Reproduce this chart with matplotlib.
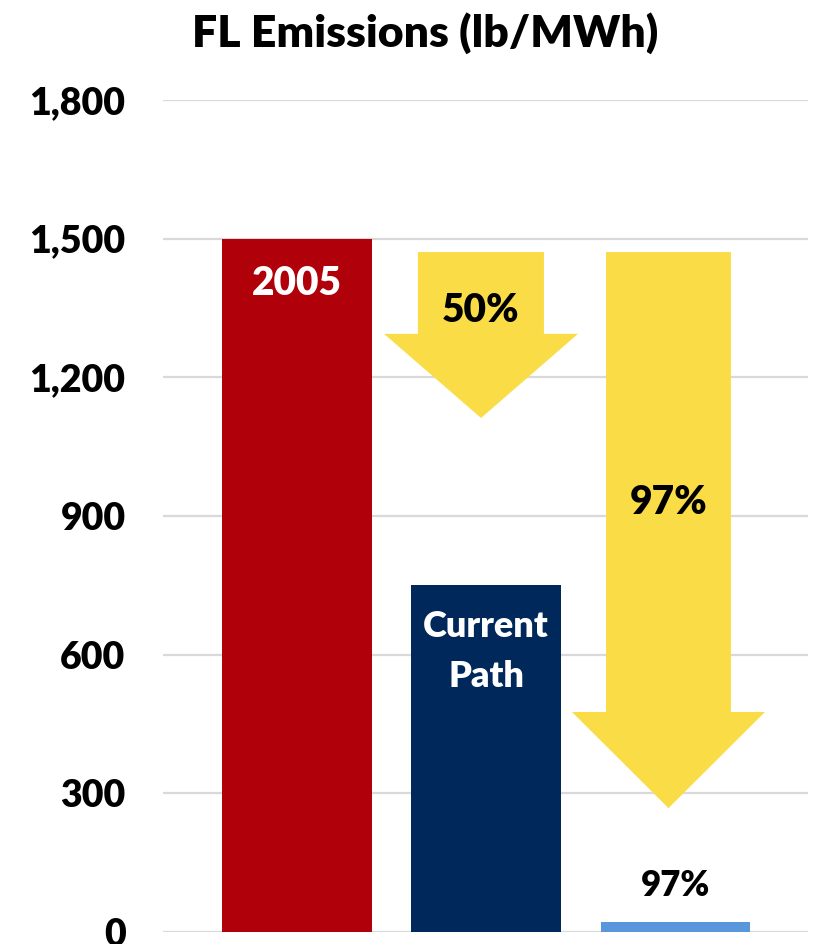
import matplotlib.pyplot as plt
from matplotlib.patches import Polygon

plt.rcParams['font.family'] = ['Lato', 'DejaVu Sans']
plt.rcParams['font.weight'] = 'heavy'

# data
categories = ['2005', 'Current Path', 'Target']
values = [1500, 750, 22]
colors = ['#B0000A', '#00285A', '#5A96DC']
yticks = [0, 300, 600, 900, 1200, 1500, 1800]
reductions = ['50%', '97%']

fig = plt.figure(figsize=(8.13, 9.44), dpi=100)
ax = fig.add_axes([0.2005, 0.0127, 0.7933, 0.8814])

x = list(range(len(categories)))
ax.bar(x, values, width=0.79, color=colors, zorder=2)

ax.set_xlim(-0.708, 2.70)
ax.set_ylim(0, 1800)
ax.set_yticks(yticks)
ax.set_yticklabels([f'{v:,}' for v in yticks], fontsize=27, fontweight='heavy')
ax.set_xticks([])
ax.tick_params(axis='y', length=0, pad=27)
ax.yaxis.grid(True, color='#D9D9D9', linewidth=1.6, zorder=0)
for s in ax.spines.values():
    s.set_visible(False)

fig.text(425 / 813, 1 - 33 / 944, 'FL Emissions (lb/MWh)', fontsize=32,
         fontweight='heavy', ha='center', va='center')


def down_arrow(x0, x1, hx0, hx1, top, neck, tip):
    # block arrow pointing down, in data coords
    xm = (hx0 + hx1) / 2
    pts = [(x0, top), (x1, top), (x1, neck), (hx1, neck), (xm, tip),
           (hx0, neck), (x0, neck)]
    ax.add_patch(Polygon(pts, closed=True, facecolor='#FADD46',
                         edgecolor='none', zorder=3))


down_arrow(0.639, 1.305, 0.46, 1.485, 1471, 1294, 1112)
down_arrow(1.633, 2.293, 1.453, 2.473, 1471, 476, 268)

# labels
ax.text(0, 1403, '2005', color='white', fontsize=28, fontweight='heavy',
        ha='center', va='center', zorder=4)
ax.text(1, 607, 'Current\nPath', color='white', fontsize=26,
        fontweight='heavy', ha='center', va='center', linespacing=1.6,
        zorder=4)
ax.text(0.972, 1345, reductions[0], fontsize=28, fontweight='heavy',
        ha='center', va='center', zorder=4)
ax.text(1.966, 930, reductions[1], fontsize=28, fontweight='heavy',
        ha='center', va='center', zorder=4)
ax.text(2, 100, '97%', fontsize=25, fontweight='heavy',
        ha='center', va='center', zorder=4)

fig.savefig('out.png', dpi=100)
